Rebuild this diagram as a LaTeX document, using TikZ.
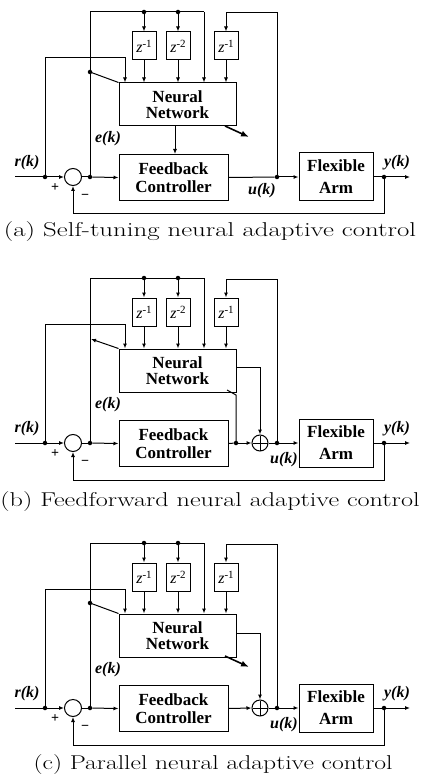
\documentclass[tikz,border=0pt]{standalone}
\usepackage{fontspec}
\usepackage{graphicx}
\usetikzlibrary{arrows.meta}
\newfontfamily\tms{Liberation Serif}
\newcommand\blkfont{\tms\bfseries\fontsize{17}{18}\selectfont}
\newcommand\zfont{\tms\fontsize{16}{16}\selectfont}
\newcommand\lblfont{\tms\bfseries\itshape\fontsize{16}{16}\selectfont}
\newcommand\capfont{\fontsize{20}{24}\selectfont}
\newcommand\zz[1]{\textit{z}\raisebox{5pt}{\fontsize{11}{11}\selectfont #1}}
\tikzset{
  blk/.style={draw, line width=1pt, inner sep=0pt, align=center, font=\blkfont},
  zb/.style={draw, line width=1pt, minimum width=24pt, minimum height=28pt, inner sep=0pt, font=\zfont},
  jdot/.style={circle, fill, inner sep=0pt, minimum size=4.5pt},
  sig/.style={line width=1pt},
  arr/.style={sig, -{Latex[length=5pt,width=4pt]}},
  adapt/.style={line width=1.6pt, -{Latex[length=8pt,width=6pt]}},
  lbl/.style={font=\lblfont, inner sep=0pt},
  sgn/.style={font=\tms\bfseries\fontsize{14}{14}\selectfont, inner sep=0pt},
  sumc/.style={circle, draw, line width=1pt, minimum size=17pt, inner sep=0pt},
  capt/.style={font=\capfont, inner sep=0pt},
}
% common part of each panel; #1 = name prefix
\newcommand\panelcommon[1]{%
  \node[blk, minimum width=117pt, minimum height=43pt] (#1nn) at (177.5,-72.5) {Neural\\[-2pt]Network};
  \node[blk, minimum width=109pt, minimum height=46pt] (#1fc) at (173.5,0.5) {Feedback\\Controller};
  \node[blk, minimum width=74pt, minimum height=48pt] (#1arm) at (336,0) {Flexible\\[4pt]Arm};
  \node[sumc] (#1sum) at (73,0) {};
  \node[zb] (#1z1) at (144,-131) {\zz{-1}};
  \node[zb] (#1z2) at (178,-131) {\zz{-2}};
  \node[zb] (#1z3) at (226,-131) {\zz{-1}};
  \coordinate (#1in) at (15,0);
  \node[jdot] (#1rj) at (45,0) {};
  \node[jdot] (#1ej) at (90,0) {};
  \node[jdot] (#1uj) at (277,0) {};
  \node[jdot] (#1yj) at (384,0) {};
  \coordinate (#1out) at (410,0);
  \coordinate (#1tl) at (90,-165);
  \coordinate (#1tr) at (204,-165);
  \node[jdot] (#1t1) at (144,-165) {};
  \node[jdot] (#1t2) at (178,-165) {};
  \coordinate (#1ur) at (277,-164);
  \coordinate (#1ul) at (226,-164);
  \coordinate (#1rt) at (45,-119);
  \coordinate (#1rx) at (125,-119);
  \coordinate (#1fb) at (384,37);
  \coordinate (#1fbl) at (73,37);
  \draw[sig] (#1in) -- (#1rj);
  \draw[arr] (#1rj) -- (#1sum.west);
  \draw[sig] (#1sum.east) -- (#1ej);
  \draw[arr] (#1ej) -- (#1fc.west);
  \draw[arr] (#1arm.east) -- (#1out);
  \draw[arr] (#1yj.center) -- (#1fb) -- (#1fbl) -- (#1sum.south);
  \draw[sig] (#1ej.center) -- (#1tl) -- (#1tr);
  \draw[arr] (#1tr) -- (#1tr |- #1nn.north);
  \draw[arr] (#1t1.center) -- (#1z1.north);
  \draw[arr] (#1t2.center) -- (#1z2.north);
  \draw[arr] (#1z1.south) -- (#1z1.south |- #1nn.north);
  \draw[arr] (#1z2.south) -- (#1z2.south |- #1nn.north);
  \draw[arr] (#1z3.south) -- (#1z3.south |- #1nn.north);
  \draw[arr] (#1uj.center) -- (#1ur) -- (#1ul) -- (#1z3.north);
  \draw[arr] (#1rj.center) -- (#1rt) -- (#1rx) -- (#1rx |- #1nn.north);
  \node[lbl] (#1rl) at (27,-14) {r(k)};
  \node[lbl] (#1el) at (108,-38) {e(k)};
  \node[lbl] (#1yl) at (397,-14) {y(k)};
  \node[sgn] (#1pl) at (55,11) {+};
  \node[sgn] (#1mi) at (85,20) {−};
}
\newcommand\plusc[2]{%
  \node[sumc, minimum size=16pt] (#1plus) at (#2) {};
  \draw[sig] ([yshift=-1pt]#1plus.north) -- ([yshift=1pt]#1plus.south);
  \draw[sig] ([xshift=1pt]#1plus.west) -- ([xshift=-1pt]#1plus.east);
}
\begin{document}
\begin{tikzpicture}[x=1pt, y=-1pt]
\useasboundingbox (0,0) rectangle (420,783);
\fill[white] (0,0) rectangle (420,783);
\clip (0,0) rectangle (420,783);

% ---------------- (a) ----------------
\begin{scope}[shift={(0,177)}]
  \panelcommon{a}
  \node[jdot] (aed) at (90,-105) {};
  \draw[sig] (aed.center) -- (ann.north west);
  \draw[arr] ([xshift=-2.5pt]ann.south) -- ([xshift=-2.5pt]ann.south |- afc.north);
  \draw[sig] (afc.east) -- (auj);
  \draw[arr] (auj) -- (aarm.west);
  \coordinate (aa1) at (225,-51);
  \coordinate (aa2) at (249,-40);
  \draw[adapt] (aa1) -- (aa2);
  \node[lbl] (aul) at (262,14) {u(k)};
  \node[capt] (acap) at (210,55) {\scalebox{1.34}[1]{(a) Self-tuning neural adaptive control}};
\end{scope}

% ---------------- (b) ----------------
\begin{scope}[shift={(0,443)}]
  \panelcommon{b}
  \plusc{b}{260,0}
  \coordinate (bed) at (91,-104);
  \draw[arr] (bnn.north west) -- (bed);
  \node[jdot] (bfj) at (236,0) {};
  \draw[sig] (bfc.east) -- (bfj);
  \draw[arr] (bfj) -- (bplus.west);
  \draw[sig] (bplus.east) -- (buj);
  \draw[arr] (buj) -- (barm.west);
  \coordinate (bno) at (236,-76);
  \coordinate (bnc) at (260,-76);
  \draw[arr] (bno) -- (bnc) -- (bplus.north);
  \coordinate (bfu) at (236,-48);
  \coordinate (bfn) at (227,-53);
  \draw[sig] (bfj.center) -- (bfu) -- (bfn);
  \node[lbl] (bul) at (284,17) {u(k)};
  \node[capt] (bcap) at (210,59) {\scalebox{1.31}[1]{(b) Feedforward neural adaptive control}};
\end{scope}

% ---------------- (c) ----------------
\begin{scope}[shift={(0,708)}]
  \panelcommon{c}
  \plusc{c}{260,0}
  \node[jdot] (ced) at (90,-105) {};
  \draw[sig] (ced.center) -- (cnn.north west);
  \draw[arr] (cfc.east) -- (cplus.west);
  \draw[sig] (cplus.east) -- (cuj);
  \draw[arr] (cuj) -- (carm.west);
  \coordinate (cno) at (236,-75);
  \coordinate (cnc) at (260,-75);
  \draw[arr] (cno) -- (cnc) -- (cplus.north);
  \coordinate (ca1) at (225,-52);
  \coordinate (ca2) at (249,-41);
  \draw[adapt] (ca1) -- (ca2);
  \node[lbl] (cul) at (284,17) {u(k)};
  \node[capt] (ccap) at (213,57) {\scalebox{1.28}[1]{(c) Parallel neural adaptive control}};
\end{scope}
\end{tikzpicture}
\end{document}
